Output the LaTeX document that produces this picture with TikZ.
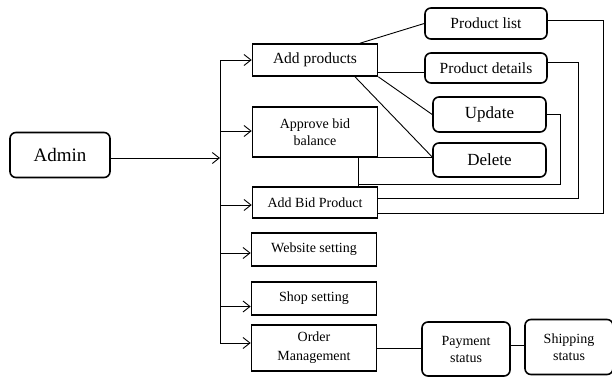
\documentclass[tikz,border=0pt]{standalone}
\usepackage{fontspec}
\setmainfont{Liberation Serif}
\usetikzlibrary{arrows.meta}

\newcommand{\fsz}[1]{\fontsize{#1}{17}\selectfont}

\begin{document}
\begin{tikzpicture}[x=1pt,y=-1pt,
    box/.style={draw,line width=1.6pt,minimum width=125pt,align=center,inner sep=1pt,font=\fsz{14}},
    rbox/.style={box,rounded corners=6pt},
    wire/.style={line width=0.9pt},
    arr/.style={wire,-{Straight Barb[length=7pt,width=11pt]}}]
    \clip (0,0) rectangle (612,376);

    % left side
    \node[rbox,minimum width=100pt,minimum height=45pt,font=\fsz{19}] (admin) at (60,155) {Admin};
    \node[box,minimum height=32pt,font=\fsz{15.5}] (addprod) at (315,60) {Add products};
    \node[box,minimum height=50pt] (approve) at (315,132) {Approve bid\\balance};
    \node[box,minimum height=31pt] (addbid) at (315,202.5) {Add Bid Product};
    \node[box,minimum height=33pt] (website) at (314,249.5) {Website setting};
    \node[box,minimum height=33pt] (shop) at (314,298.5) {Shop setting};
    \node[box,minimum height=46pt,font=\fontsize{14}{19}\selectfont] (order) at (314,348) {Order\\Management};

    % right side
    \node[rbox,minimum width=122pt,minimum height=31pt,font=\fsz{15.5}] (plist) at (486,23.5) {Product list};
    \node[rbox,minimum width=122pt,minimum height=30pt,font=\fsz{15.5}] (pdetails) at (486,68) {Product details};
    \node[rbox,minimum width=113pt,minimum height=35pt,font=\fsz{17}] (update) at (489.5,114.5) {Update};
    \node[rbox,minimum width=113pt,minimum height=34pt,font=\fsz{17}] (delete) at (489.5,160) {Delete};
    \node[rbox,minimum width=88pt,minimum height=54pt] (payment) at (466,349) {Payment\\status};
    \node[rbox,minimum width=88pt,minimum height=55pt] (shipping) at (569,347) {Shipping\\status};

    % bus
    \coordinate (bustop) at (220,60);
    \coordinate (busbot) at (220,343);
    \draw[wire] (bustop) -- (busbot);
    \coordinate (adminout) at ([yshift=-3pt]admin.east);
    \draw[arr] (adminout) -- (bustop |- adminout);
    \foreach \n/\dy in {addprod/0,approve/1,addbid/-2.5,website/-3.5,shop/-8,order/5}{
        \coordinate (in) at ([yshift=\dy pt]\n.west);
        \draw[arr] (bustop |- in) -- (in);
    }

    % add products links
    \draw[wire] ([xshift=45pt]addprod.north) -- (plist.west);
    \coordinate (pdin) at ([yshift=-4pt]pdetails.west);
    \draw[wire] (pdin) -- (pdin -| addprod.east);
    \draw[wire] (addprod.south east) -- (update.west);
    \coordinate (delin) at ([yshift=3pt]delete.west);
    \draw[wire] ([xshift=40pt]addprod.south) -- (delin);

    % back to add bid product
    \coordinate (tie) at ([xshift=43pt]approve.south);
    \draw[wire] (delin) -- (delin -| tie) -- (tie |- addbid.north);
    \path (tie |- addbid.north) ++(0,-2) coordinate (updend);
    \draw[wire] (update.east) -- ++(14,0) |- (updend);
    \draw[wire] ([yshift=6pt]pdetails.east) -- ++(31,0) |- ([yshift=4.5pt]addbid.east);
    \draw[wire] ([yshift=3.5pt]plist.east) -- ++(56,0) |- ([yshift=-10.5pt]addbid.east);

    % order chain
    \draw[wire] (order.east) -- (order.east -| payment.west);
    \coordinate (payout) at ([yshift=4pt]payment.east);
    \draw[wire] (payout) -- (payout -| shipping.west);
\end{tikzpicture}
\end{document}
